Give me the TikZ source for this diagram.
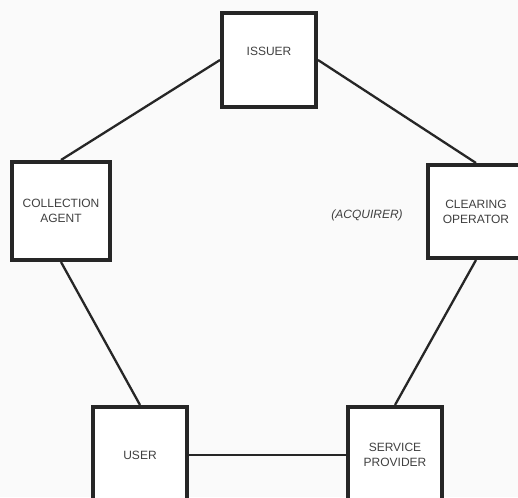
\documentclass[tikz,border=0pt]{standalone}
\usepackage{fontspec}
\setmainfont{Liberation Sans}
\begin{document}
\begin{tikzpicture}[x=1pt, y=-1pt,
    party/.style={draw=black!85, line width=4pt, fill=white, minimum width=94pt, minimum height=94pt, inner sep=0pt, align=center, text=black!75, font=\fontsize{12}{15}\selectfont},
    tag/.style={text=black!75, font=\fontsize{12}{15}\selectfont},
    link/.style={draw=black!85, line width=2.3pt}]
         \useasboundingbox (0, 0) rectangle (518, 497);
         \fill [black!2] (0, 0) rectangle (518, 497);
         \clip (0, 0) rectangle (518, 497);
         \node [party] (IS) at (269, 60) {};
         \node [tag] (IST) at (269, 51) {ISSUER};
         \node [party, minimum width=98pt, minimum height=98pt] (CA) at (61, 211) {COLLECTION\\AGENT};
         \node [party, minimum width=96pt, minimum height=93pt] (CO) at (476, 211.5) {CLEARING\\OPERATOR};
         \node [party, minimum height=96pt] (US) at (140, 455) {USER};
         \node [party, minimum height=96pt] (SP) at (395, 455) {SERVICE\\PROVIDER};
         \node [tag, font=\fontsize{12}{15}\selectfont\itshape] (AQ) at (367, 215) {(ACQUIRER)};
         \draw [link] (CA.north) -- (IS.west);
         \draw [link] (IS.east) -- (CO.north);
         \draw [link] (CA.south) -- (US.north);
         \draw [link] (CO.south) -- (SP.north);
         \draw [link] (US.east) -- (SP.west);
\end{tikzpicture}
\end{document}
